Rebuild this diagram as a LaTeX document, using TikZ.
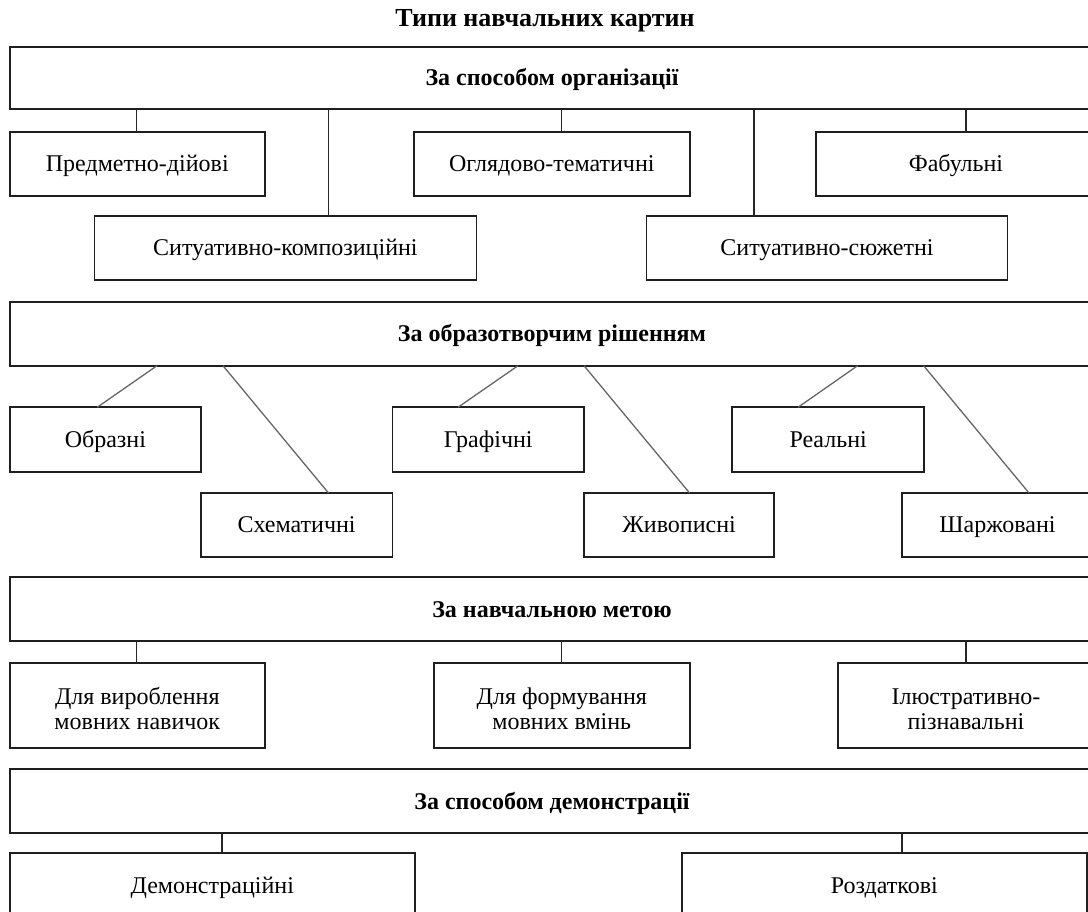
\documentclass[tikz,border=0pt]{standalone}
\usepackage{fontspec}
\setmainfont{Liberation Serif}
\usetikzlibrary{calc}
\begin{document}
\begin{tikzpicture}[x=1pt,y=-1pt,
  box/.style={draw=black!88, line width=1.8pt, rectangle, inner sep=0pt, outer sep=0pt,
    align=center, font=\fontsize{24}{25}\selectfont},
  one/.style={text height=16pt, text depth=0pt},
  head/.style={box, one, font=\bfseries\fontsize{24}{26}\selectfont, minimum width=1084pt},
  link/.style={draw=black!85, line width=1.3pt},
  diag/.style={draw=black!60, line width=1.3pt}]
\useasboundingbox (0,0) rectangle (1088,912);
\clip (0,0) rectangle (1088,912);
\fill[white] (0,0) rectangle (1088,912);

\node[font=\bfseries\fontsize{26}{28}\selectfont, text height=17pt, text depth=0pt, inner sep=0pt] (title) at (545,18.3) {Типи навчальних картин};

% group 1
\node[head, minimum height=62.6pt] (B1) at (552,78) {За способом організації};
\node[box, one, minimum width=254.6pt, minimum height=64.3pt] (pd) at (137.3,163.9) {Предметно-дійові};
\node[box, one, minimum width=275.6pt, minimum height=64.3pt] (ot) at (551.8,163.9) {Оглядово-тематичні};
\node[box, one, minimum width=280pt, minimum height=64.3pt] (fab) at (956,163.9) {Фабульні};
\node[box, one, minimum width=382pt, minimum height=64pt] (sk) at (285.4,248) {Ситуативно-композиційні};
\node[box, one, minimum width=361.1pt, minimum height=64pt] (ss) at (827,248) {Ситуативно-сюжетні};
\coordinate (k1) at (136.8,0);
\coordinate (k2) at (328.5,0);
\coordinate (k3) at (561.8,0);
\coordinate (k4) at (754,0);
\coordinate (k5) at (966,0);
\draw[link] (B1.south -| k1) -- (pd.north -| k1);
\draw[link] (B1.south -| k2) -- (sk.north -| k2);
\draw[link] (B1.south -| k3) -- (ot.north -| k3);
\draw[link] (B1.south -| k4) -- (ss.north -| k4);
\draw[link] (B1.south -| k5) -- (fab.north -| k5);

% group 2
\node[head, minimum height=64pt] (B2) at (552,333.7) {За образотворчим рішенням};
\node[box, one, minimum width=190.7pt, minimum height=64.7pt] (obr) at (105.35,439.65) {Образні};
\node[box, one, minimum width=191.6pt, minimum height=64.7pt] (gra) at (488.2,439.65) {Графічні};
\node[box, one, minimum width=192.3pt, minimum height=64.7pt] (rea) at (828.15,439.65) {Реальні};
\node[box, one, minimum width=191.7pt, minimum height=63.7pt] (sch) at (296.55,524.85) {Схематичні};
\node[box, one, minimum width=190.3pt, minimum height=63.7pt] (zhy) at (679.15,524.85) {Живописні};
\node[box, one, minimum width=191pt, minimum height=63.7pt] (sha) at (997.5,524.85) {Шаржовані};
\draw[diag] ($(B2.south west)+(147,0)$) -- ($(obr.north west)+(87.2,0)$);
\draw[diag] ($(B2.south west)+(213,0)$) -- ($(sch.north west)+(127.8,0)$);
\draw[diag] ($(B2.south west)+(508,0)$) -- ($(gra.north west)+(65.6,0)$);
\draw[diag] ($(B2.south west)+(574,0)$) -- ($(zhy.north west)+(105.6,0)$);
\draw[diag] ($(B2.south west)+(847.6,0)$) -- ($(rea.north west)+(66,0)$);
\draw[diag] ($(B2.south west)+(913.6,0)$) -- ($(sha.north west)+(127,0)$);

% group 3
\node[head, minimum height=63.7pt] (B3) at (552,609.15) {За навчальною метою};
\node[box, minimum width=254.6pt, minimum height=84.4pt] (dv) at (137.3,705.5) {\rule{0pt}{24pt}Для вироблення\\мовних навичок};
\node[box, minimum width=255.6pt, minimum height=84.4pt] (df) at (561.8,705.5) {\rule{0pt}{24pt}Для формування\\мовних вмінь};
\node[box, minimum width=256pt, minimum height=84.4pt] (il) at (966,705.5) {\rule{0pt}{24pt}Ілюстративно-\\пізнавальні};
\draw[link] (B3.south -| k1) -- (dv.north -| k1);
\draw[link] (B3.south -| k3) -- (df.north -| k3);
\draw[link] (B3.south -| k5) -- (il.north -| k5);

% group 4
\node[head, minimum height=64pt] (B4) at (552,801.3) {За способом демонстрації};
\node[box, one, minimum width=404.6pt, minimum height=64pt] (dem) at (212.3,885.3) {Демонстраційні};
\node[box, one, minimum width=404.8pt, minimum height=64pt] (roz) at (884.4,885.3) {Роздаткові};
\coordinate (k6) at (222,0);
\coordinate (k7) at (902,0);
\draw[link] (B4.south -| k6) -- (dem.north -| k6);
\draw[link] (B4.south -| k7) -- (roz.north -| k7);
\end{tikzpicture}
\end{document}
